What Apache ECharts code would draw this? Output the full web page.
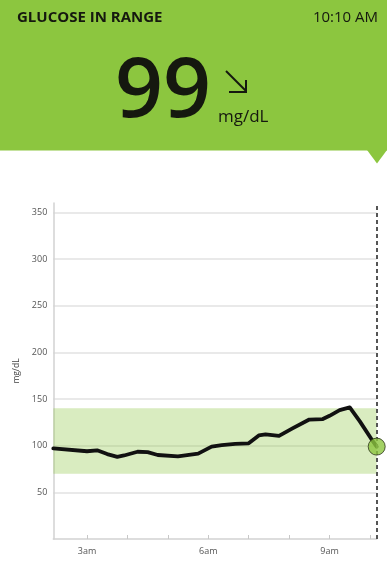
<!DOCTYPE html>
<html>
<head>
<meta charset="utf-8">
<script src="https://cdn.jsdelivr.net/npm/echarts@6/dist/echarts.min.js"></script>
<style>
  html, body { margin: 0; padding: 0; background: #fff; }
  #chart { width: 387px; height: 575px; }
</style>
</head>
<body>
<div id="chart"></div>
<script>
// Sensor readings: minutes after midnight and glucose in mg/dL
const readingMinutes = [130, 180, 195, 210, 225, 235, 255, 270, 285, 315, 345, 365, 380, 400, 420, 435, 445, 465, 485, 510, 530, 540, 555, 570, 585, 605, 610];
const glucose        = [97,  94,  95,  91,  88,  89.5, 93.5, 93, 90, 88.5, 91.5, 99, 100.5, 102, 102.5, 111, 112, 110.5, 118.5, 128, 128.5, 132, 138, 141, 126, 104, 99];

// Target range (mg/dL)
const targetLow = 70;
const targetHigh = 140;

// Time window and hour ticks (minutes after midnight)
const windowStart = 130;
const windowEnd = 610;
const hourTicks = [180, 240, 300, 360, 420, 480, 540, 600];
const hourLabelValues = [180, 360, 540];
const hourLabelText = ['3am', '6am', '9am'];

// Header texts
const headerTitle = 'GLUCOSE IN RANGE';
const headerTime = '10:10 AM';
const unitText = 'mg/dL';

const green = '#8cc63f';
const ink = '#15180f';
const font = '"Open Sans", "Noto Sans", sans-serif';

const series = readingMinutes.map((t, i) => [t, glucose[i]]);
const last = series[series.length - 1];

const chart = echarts.init(document.getElementById('chart'), null, { renderer: 'canvas' });

chart.setOption({
  animation: false,
  backgroundColor: '#fff',
  textStyle: { fontFamily: font },
  grid: { left: 53.3, right: 10.3, top: 203, bottom: 36 },
  xAxis: {
    type: 'value',
    min: windowStart,
    max: windowEnd,
    axisLine: { show: true, lineStyle: { color: '#d2d2d2', width: 1.5 } },
    axisTick: {
      show: true, inside: true, length: 4,
      customValues: hourTicks,
      lineStyle: { color: '#c8c8c8', width: 1 }
    },
    axisLabel: {
      customValues: hourLabelValues,
      formatter: v => hourLabelText[hourLabelValues.indexOf(v)] || '',
      color: '#555', fontSize: 9, margin: 8, fontFamily: font
    },
    splitLine: { show: false }
  },
  yAxis: {
    type: 'value',
    min: 0,
    max: 360,
    interval: 50,
    name: unitText,
    nameLocation: 'middle',
    nameRotate: 90,
    nameGap: 27,
    nameTextStyle: { color: '#444', fontSize: 8.5, fontFamily: font },
    axisLine: { show: true, lineStyle: { color: '#d2d2d2', width: 1.5 } },
    axisTick: { show: false },
    axisLabel: {
      color: '#555', fontSize: 9, margin: 6, fontFamily: font,
      showMinLabel: false, showMaxLabel: false
    },
    splitLine: {
      show: true, showMinLine: false, showMaxLine: false,
      lineStyle: { color: '#e2e2e2', width: 1.5 }
    }
  },
  series: [
    {
      type: 'line',
      data: series,
      symbol: 'none',
      lineStyle: { color: '#111', width: 3.8, join: 'round', cap: 'round' },
      z: 3,
      markArea: {
        silent: true,
        itemStyle: { color: 'rgba(140,198,63,0.33)' },
        data: [[{ yAxis: targetLow }, { yAxis: targetHigh }]]
      },
      markLine: {
        silent: true,
        symbol: 'none',
        label: { show: false },
        lineStyle: { color: '#555', type: [4, 3], width: 2 },
        data: [{ xAxis: windowEnd }]
      }
    },
    {
      type: 'scatter',
      data: [last],
      symbol: 'circle',
      symbolSize: 17,
      clip: false,
      itemStyle: { color: green, borderColor: '#2a3318', borderWidth: 1 },
      z: 5
    }
  ],
  graphic: [
    { type: 'rect', shape: { x: 0, y: 0, width: 387, height: 150.5 }, style: { fill: green } },
    { type: 'polygon', shape: { points: [[367, 150], [387, 150], [377, 163.5]] }, style: { fill: green } },
    {
      type: 'text', left: 17, top: 10,
      style: { text: headerTitle, fill: ink, font: '700 15px ' + font }
    },
    {
      type: 'text', right: 9, top: 10,
      style: { text: headerTime, fill: ink, font: '400 15px ' + font }
    },
    {
      type: 'text', x: 163, y: 93,
      style: {
        text: String(last[1]), fill: ink, font: '600 84px ' + font,
        align: 'center', verticalAlign: 'middle'
      }
    },
    {
      type: 'polyline',
      shape: { points: [[226, 71], [246, 91]] },
      style: { stroke: ink, lineWidth: 2, fill: null }
    },
    {
      type: 'polyline',
      shape: { points: [[246, 80], [246, 92], [229, 92]] },
      style: { stroke: ink, lineWidth: 2, fill: null }
    },
    {
      type: 'text', x: 218, y: 117,
      style: { text: unitText, fill: ink, font: '400 17px ' + font, verticalAlign: 'middle' }
    }
  ]
});
</script>
</body>
</html>
